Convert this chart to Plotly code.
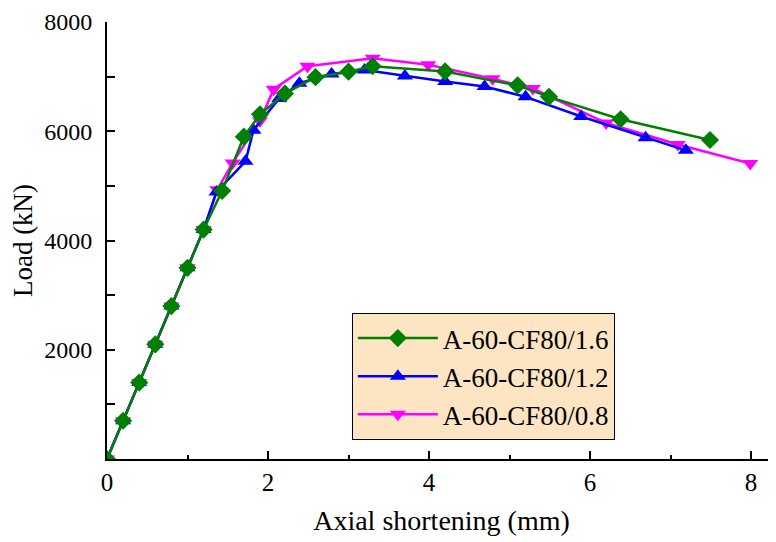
import plotly.graph_objects as go

# Series data
x_16 = [0, 0.2, 0.4, 0.6, 0.8, 1.0, 1.2, 1.43, 1.70, 1.90, 2.21, 2.59, 3.0, 3.3, 4.2, 5.1, 5.49, 6.38, 7.49]
y_16 = [0, 700, 1400, 2100, 2800, 3500, 4200, 4910, 5900, 6310, 6690, 6990, 7090, 7190, 7095, 6840, 6630, 6220, 5840]

x_12 = [0, 0.2, 0.4, 0.6, 0.8, 1.0, 1.2, 1.36, 1.72, 1.82, 2.14, 2.39, 2.79, 3.2, 3.7, 4.2, 4.69, 5.2, 5.89, 6.69, 7.19]
y_12 = [0, 700, 1400, 2100, 2800, 3500, 4200, 4890, 5450, 6020, 6600, 6880, 7050, 7120, 7010, 6910, 6820, 6630, 6270, 5880, 5650]

x_08 = [0, 0.2, 0.4, 0.6, 0.8, 1.0, 1.2, 1.37, 1.56, 1.90, 2.07, 2.49, 3.3, 3.99, 4.79, 5.29, 6.20, 7.09, 7.99]
y_08 = [0, 700, 1400, 2100, 2800, 3500, 4200, 4930, 5420, 6190, 6770, 7190, 7335, 7216, 6963, 6782, 6150, 5758, 5409]

names = ["A-60-CF80/1.6", "A-60-CF80/1.2", "A-60-CF80/0.8"]

x_ticks = [0, 2, 4, 6, 8]
y_ticks = [2000, 4000, 6000, 8000]

FONT = "Liberation Serif"

fig = go.Figure()
# drawing order: magenta, blue, green (green on top); legend order via legendrank
fig.add_trace(go.Scatter(x=x_08, y=y_08, name=names[2], mode="lines+markers",
                         line=dict(color="#FF00FF", width=2.5),
                         marker=dict(symbol="triangle-down", size=14, color="#FF00FF"),
                         legendrank=3))
fig.add_trace(go.Scatter(x=x_12, y=y_12, name=names[1], mode="lines+markers",
                         line=dict(color="#0000FF", width=2.5),
                         marker=dict(symbol="triangle-up", size=14, color="#0000FF"),
                         legendrank=2))
fig.add_trace(go.Scatter(x=x_16, y=y_16, name=names[0], mode="lines+markers",
                         line=dict(color="#008000", width=2.5),
                         marker=dict(symbol="diamond", size=14, color="#008000"),
                         legendrank=1))

# the page body adds an 8px offset, so the figure is 768x534 drawn at (8, 8)
fig.update_layout(
    width=768, height=534,
    margin=dict(l=99, r=0, t=14, b=83),
    paper_bgcolor="white", plot_bgcolor="white",
    font=dict(family=FONT, color="black", size=24),
    showlegend=True,
    legend=dict(x=0.366, y=0.334, xanchor="left", yanchor="top",
                bgcolor="#FDE5C4", bordercolor="black", borderwidth=1,
                font=dict(family=FONT, size=27, color="black"),
                tracegroupgap=0, itemwidth=80),
)
fig.update_xaxes(
    range=[0, 8.31], showgrid=False, zeroline=False, automargin=False,
    showline=True, linecolor="black", linewidth=2,
    tickmode="array", tickvals=x_ticks, ticktext=[str(v) for v in x_ticks],
    ticks="inside", ticklen=8, tickwidth=2, tickcolor="black", ticklabeloverflow="allow",
    minor=dict(tickmode="linear", tick0=0, dtick=1, ticks="inside", ticklen=4, tickwidth=2, tickcolor="black"),
    tickfont=dict(family=FONT, size=25, color="black"),
    title=dict(text="Axial shortening (mm)", font=dict(family=FONT, size=28, color="black")),
)
fig.update_yaxes(
    range=[0, 8000], showgrid=False, zeroline=False, automargin=False,
    showline=True, linecolor="black", linewidth=2,
    tickmode="array", tickvals=y_ticks, ticktext=[str(v) for v in y_ticks],
    ticks="inside", ticklen=8, tickwidth=2, tickcolor="black", ticklabelstandoff=8,
    ticklabeloverflow="allow",
    minor=dict(tickmode="linear", tick0=0, dtick=1000, ticks="inside", ticklen=8, tickwidth=2, tickcolor="black"),
    tickfont=dict(family=FONT, size=24, color="black"),
    title=dict(text="Load (kN)", font=dict(family=FONT, size=27, color="black")),
)

fig.write_html("out.html")
